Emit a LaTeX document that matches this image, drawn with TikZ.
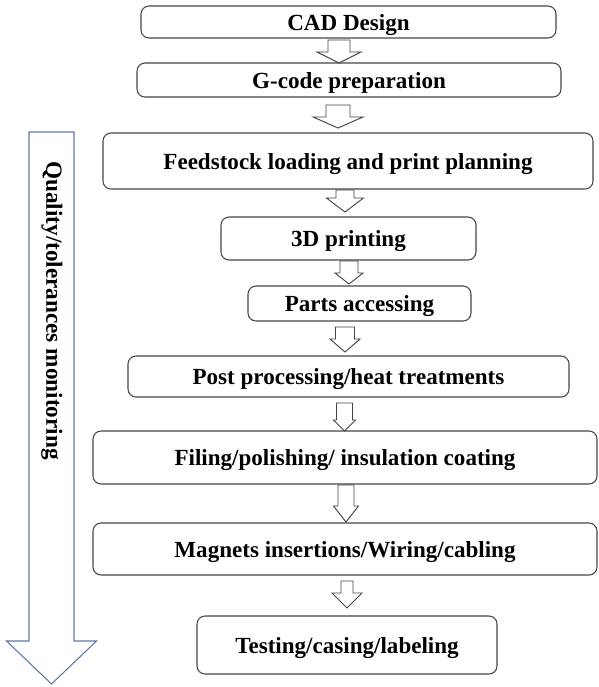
\documentclass[tikz,border=0pt]{standalone}
\usepackage{fontspec}
\setmainfont{Liberation Serif}
\definecolor{boxgray}{RGB}{70,70,70}
\definecolor{qblue}{RGB}{95,120,170}
\newcommand\blkarrow[7]{% style, cx, shaft half, head half, top, neck, tip
  \draw[#1] ({#2-#3},#5) -- ({#2+#3},#5) -- ({#2+#3},#6) -- ({#2+#4},#6) -- (#2,#7) -- ({#2-#4},#6) -- ({#2-#3},#6) -- cycle;}
\begin{document}
\begin{tikzpicture}[x=0.75pt,y=-0.75pt,
  stepbox/.style={draw=boxgray, line width=0.8pt, rounded corners=6pt, fill=white,
    align=center, inner sep=0pt, text height=12.2pt, text depth=0pt,
    font=\fontsize{17.3pt}{20pt}\selectfont\bfseries},
  smallarrow/.style={draw=boxgray, line width=0.7pt, fill=white, line join=miter},
  bigarrow/.style={draw=qblue, line width=0.8pt, fill=white}]
\useasboundingbox (0,0) rectangle (599,687);
\fill[white] (0,0) rectangle (599,687);

% quality arrow
\blkarrow{bigarrow}{51.5}{22.5}{45}{132}{641}{684}
\node[rotate=-90, anchor=base west, inner sep=0pt,
  font=\fontsize{17.4pt}{20pt}\selectfont\bfseries] (qlabel) at (46.5,161) {Quality/tolerances monitoring};

% boxes
\node[stepbox, minimum width=311.25pt, minimum height=24pt]   (b1) at (348.5,22)  {CAD Design};
\node[stepbox, minimum width=318pt,    minimum height=25.5pt] (b2) at (349,80)    {G-code preparation};
\node[stepbox, minimum width=367.5pt,  minimum height=42pt]   (b3) at (348,161)   {Feedstock loading and print planning};
\node[stepbox, minimum width=191.25pt, minimum height=32.25pt](b4) at (348.5,238.5) {3D printing};
\node[stepbox, minimum width=167.25pt, minimum height=26.25pt](b5) at (359.5,303.5) {Parts accessing};
\node[stepbox, minimum width=330.75pt, minimum height=30.75pt](b6) at (348.5,376.5) {Post processing/heat treatments};
\node[stepbox, minimum width=378pt,    minimum height=39.75pt](b7) at (345,457.5) {Filing/polishing/ insulation coating};
\node[stepbox, minimum width=378pt,    minimum height=39pt]   (b8) at (345,549)   {Magnets insertions/Wiring/cabling};
\node[stepbox, minimum width=225pt,    minimum height=43.5pt] (b9) at (347,645)   {Testing/casing/labeling};

% block arrows between steps
\blkarrow{smallarrow}{339}{11}{22}{40}{52}{63}
\blkarrow{smallarrow}{338}{12}{25}{105}{117}{128}
\blkarrow{smallarrow}{345}{9}{18.5}{190}{198}{212}
\blkarrow{smallarrow}{349}{9}{14}{261}{273}{284}
\blkarrow{smallarrow}{345}{9.5}{15}{327}{339}{352}
\blkarrow{smallarrow}{344.5}{8}{11}{403}{420}{431}
\blkarrow{smallarrow}{346}{8}{12.5}{485}{506}{522}
\blkarrow{smallarrow}{347}{6}{15}{581}{593}{608}
\end{tikzpicture}
\end{document}
